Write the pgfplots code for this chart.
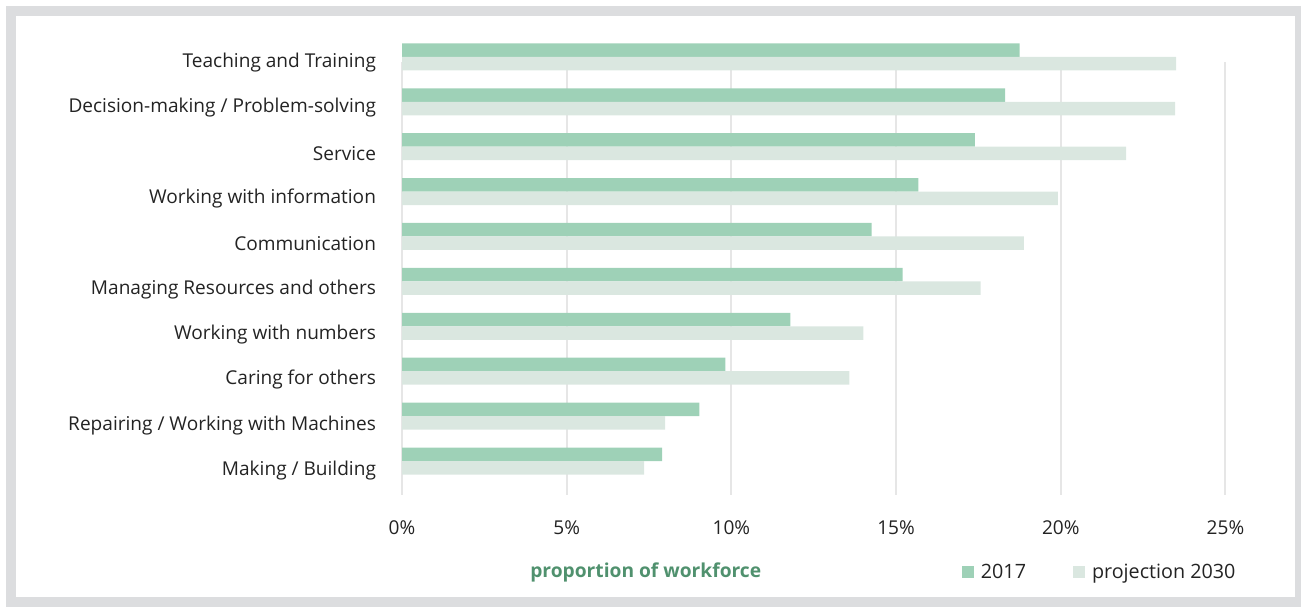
\documentclass[border=0pt]{standalone}
\usepackage{pgfplots}
\pgfplotsset{compat=1.18}
\usepackage{fontspec}
\setmainfont{Open Sans}
\definecolor{barA}{RGB}{158,209,183}
\definecolor{barB}{RGB}{218,231,224}
\definecolor{gridc}{RGB}{230,230,230}
\definecolor{framec}{RGB}{220,221,223}
\definecolor{txt}{RGB}{35,35,35}
\definecolor{lblgreen}{RGB}{80,145,110}
\begin{document}
\begin{tikzpicture}[font=\fontsize{14.3}{16}\selectfont]
\useasboundingbox (0,0) rectangle (975.75pt,455.25pt);
\draw[line width=7.5pt, framec] (8.25pt,3.75pt) rectangle (975pt,447pt);
\begin{axis}[
  at={(301.5pt,84pt)}, anchor=south west,
  scale only axis, width=617.6pt, height=324.75pt,
  xbar, clip=false,
  xmin=0, xmax=25, ymin=-0.757, ymax=8.886,
  xtick={0,5,10,15,20,25},
  xticklabel={\pgfmathprintnumber{\tick}\%},
  /pgf/number format/assume math mode=true,
  ytick={-0.589,0.421,1.431,2.441,3.45,4.46,5.47,6.48,7.49,8.5},
  yticklabels={Making / Building, Repairing / Working with Machines, Caring for others, Working with numbers, Managing Resources and others, Communication, Working with information, Service, Decision-making / Problem-solving, Teaching and Training},
  xmajorgrids, grid style={gridc, line width=1.5pt},
  axis line style={draw=none},
  major tick length=0pt,
  tick label style={txt},
  xticklabel style={yshift=-16pt},
  yticklabel style={xshift=-16pt, yshift=12.6pt},
  bar width=10.125pt,
  xlabel={\bfseries proportion of workforce},
  xlabel style={at={(axis description cs:0.296,-0.178)}, anchor=center, lblgreen, font=\fontsize{14.4}{16}\selectfont},
  legend columns=2,
  legend style={at={(axis description cs:0.680,-0.178)}, anchor=west, draw=none, fill=none, inner sep=0pt, text=txt, font=\fontsize{14.8}{16}\selectfont,
    /tikz/every even column/.append style={column sep=33.5pt}},
  legend image code/.code={\fill[#1] (0pt,-4.5pt) rectangle (9pt,4.5pt); \path (12pt,0pt);},
]
\addplot[barA, fill=barA, draw=none, bar shift=5.06pt] coordinates {
(7.90,0) (9.03,1) (9.82,2) (11.79,3) (15.20,4) (14.26,5) (15.68,6) (17.39,7) (18.31,8) (18.75,9)};
\addplot[barB, fill=barB, draw=none, bar shift=-5.06pt] coordinates {
(7.35,0) (7.99,1) (13.58,2) (14.01,3) (17.57,4) (18.88,5) (19.91,6) (21.98,7) (23.47,8) (23.50,9)};
\legend{2017, projection 2030}
\end{axis}
\end{tikzpicture}
\end{document}
